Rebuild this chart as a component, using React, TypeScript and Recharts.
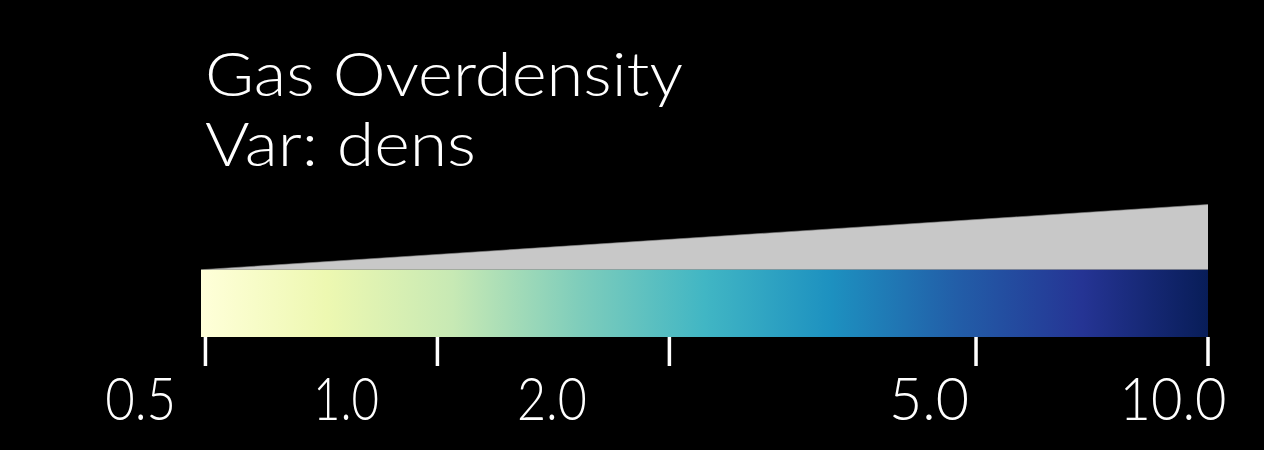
import React from 'react';
import { ComposedChart, Area, XAxis, YAxis, Customized } from 'recharts';

// ---- data ----
const TICK_VALUES = [0.5, 1, 2, 5, 10];
const TICK_LABELS = ['0.5', '1.0', '2.0', '5.0', '10.0'];
const RANGE_MIN = 0.4934;
const RANGE_MAX = 10;
const BAR_LEVEL = [1, 1];
const WEDGE_TOP = [1, 1.97];
const TITLE_LINES = ['Gas Overdensity', 'Var: dens'];
const COLORMAP = ['#ffffd9', '#edf8b1', '#c7e9b4', '#7fcdbb', '#41b6c4', '#1d91c0', '#225ea8', '#253494', '#081d58'];

const data = [
  { v: RANGE_MIN, bar: BAR_LEVEL[0], wedge: WEDGE_TOP[0] },
  { v: RANGE_MAX, bar: BAR_LEVEL[1], wedge: WEDGE_TOP[1] },
];

// ---- style ----
const FONT = 'Lato, "Open Sans", "DejaVu Sans", sans-serif';
const LABEL_DX = [-64.8, -91.4, -117.4, -47, -35];
const LABEL_WIDTH = [71, 66, 70, 80, 107];
const TITLE_WIDTH = [478, 271];

const Tick = (props: any) => {
  const { x, y, index } = props;
  return (
    <text
      x={x + LABEL_DX[index]}
      y={y + 54}
      textAnchor="middle"
      fill="#ffffff"
      fontSize={60}
      fontWeight={300}
      fontFamily={FONT}
      textLength={LABEL_WIDTH[index]}
      lengthAdjust="spacingAndGlyphs"
    >
      {TICK_LABELS[index]}
    </text>
  );
};

const Title = () => (
  <g>
    {TITLE_LINES.map((t, i) => (
      <text
        key={t}
        x={205}
        y={96 + i * 70}
        fill="#ffffff"
        fontSize={62}
        fontWeight={300}
        fontFamily={FONT}
        textLength={TITLE_WIDTH[i]}
        lengthAdjust="spacingAndGlyphs"
      >
        {t}
      </text>
    ))}
  </g>
);

export default function App() {
  return (
    <div style={{ position: 'fixed', left: 0, top: 0, width: 1264, height: 450, background: '#000000' }}>
      <ComposedChart
        width={1264}
        height={450}
        data={data}
        margin={{ top: 202.5, right: 56, bottom: 0, left: 201 }}
      >
        <defs>
          <linearGradient id="ylgnbu" x1="0" y1="0" x2="1" y2="0">
            {COLORMAP.map((c, i) => (
              <stop key={i} offset={i / (COLORMAP.length - 1)} stopColor={c} />
            ))}
          </linearGradient>
        </defs>
        <XAxis
          dataKey="v"
          type="number"
          scale="log"
          domain={[RANGE_MIN, RANGE_MAX]}
          allowDataOverflow
          ticks={TICK_VALUES}
          interval={0}
          axisLine={false}
          tickLine={{ stroke: '#ffffff', strokeWidth: 3.5 }}
          tickSize={29}
          tickMargin={0}
          tick={<Tick />}
          height={113}
        />
        <YAxis type="number" domain={[0, 2]} hide allowDataOverflow />
        <Area
          type="linear"
          dataKey="wedge"
          baseValue={1}
          stroke="#8a8a8a"
          strokeWidth={0.6}
          fill="#c8c8c8"
          fillOpacity={1}
          isAnimationActive={false}
          dot={false}
          activeDot={false}
        />
        <Area
          type="linear"
          dataKey="bar"
          baseValue={0}
          stroke="none"
          fill="url(#ylgnbu)"
          fillOpacity={1}
          isAnimationActive={false}
          dot={false}
          activeDot={false}
        />
        <Customized component={<Title />} />
      </ComposedChart>
    </div>
  );
}
